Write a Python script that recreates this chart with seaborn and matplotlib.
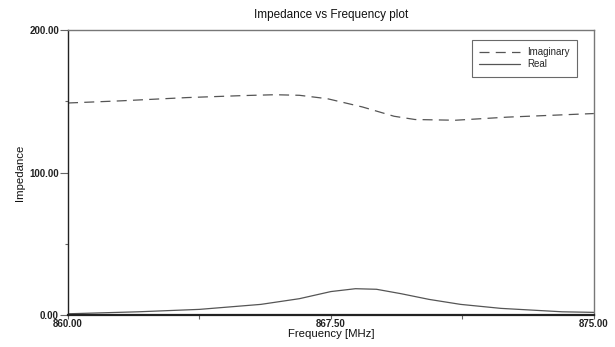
import pandas as pd
import seaborn as sns
import matplotlib.pyplot as plt
from matplotlib.ticker import FixedLocator

# values
freq_imag = [860.0, 861.5, 863.4, 865.0, 865.9, 866.6, 867.4, 868.4, 869.3, 869.9,
             871.05, 872.55, 874.9, 875.0]
imag = [148.8, 150.3, 152.6, 154.0, 154.6, 154.2, 151.8, 146.0, 139.5, 137.2,
        136.7, 138.9, 141.3, 141.4]

freq_real = [860.0, 862.0, 863.75, 865.5, 866.6, 867.5, 868.2, 868.8, 869.5, 870.3,
             871.2, 872.35, 874.1, 875.0]
real = [0.9, 2.3, 4.0, 7.5, 11.5, 16.5, 18.5, 18.1, 15.0, 11.0,
        7.5, 4.7, 2.3, 1.9]

x_ticks = [860.0, 867.5, 875.0]
y_ticks = [0.0, 100.0, 200.0]

sns.set_style("white")
plt.rcParams['font.family'] = ['Liberation Sans', 'DejaVu Sans']

fig = plt.figure(figsize=(6.15, 3.47), dpi=100)
ax = fig.add_axes([0.1106, 0.092, 0.855, 0.8215])

df_imag = pd.DataFrame({'Frequency': freq_imag, 'Impedance': imag})
df_real = pd.DataFrame({'Frequency': freq_real, 'Impedance': real})

sns.lineplot(data=df_imag, x='Frequency', y='Impedance', ax=ax, color='#555555',
             linewidth=0.9, linestyle=(0, (8, 5)), label='Imaginary')
sns.lineplot(data=df_real, x='Frequency', y='Impedance', ax=ax, color='#555555',
             linewidth=0.9, label='Real')

ax.set_xlim(860, 875)
ax.set_ylim(0, 200)
ax.set_xticks(x_ticks)
ax.set_yticks(y_ticks)
ax.set_xticklabels(['%.2f' % v for v in x_ticks], fontsize=7, fontweight='bold', color='#222222')
ax.set_yticklabels(['%.2f' % v for v in y_ticks], fontsize=7, fontweight='bold', color='#222222')
ax.xaxis.set_minor_locator(FixedLocator([863.75, 871.25]))
ax.yaxis.set_minor_locator(FixedLocator([50, 150]))
ax.tick_params(which='both', bottom=True, left=True, direction='out',
               width=0.8, color='#666666')
ax.tick_params(axis='x', which='major', length=3, pad=0)
ax.tick_params(axis='x', which='minor', length=3)
ax.tick_params(axis='y', which='major', length=6, pad=0.5)
ax.tick_params(axis='y', which='minor', length=2)

for side in ['left', 'bottom']:
    ax.spines[side].set_color('#222222')
    ax.spines[side].set_linewidth(1.0)
for side in ['top', 'right']:
    ax.spines[side].set_color('#777777')
    ax.spines[side].set_linewidth(1.0)
ax.spines['bottom'].set_linewidth(1.6)

ax.set_title('Impedance vs Frequency plot', fontsize=8.5, pad=9, color='#111111')
ax.set_xlabel('Frequency [MHz]', fontsize=8.2, labelpad=0, color='#111111')
ax.set_ylabel('Impedance', fontsize=8.2, labelpad=3, color='#111111')

leg = ax.legend(loc='upper right', bbox_to_anchor=(0.978, 0.983), fontsize=7,
                frameon=True, fancybox=False, handlelength=4.2, borderpad=0.75,
                labelspacing=0.25)
leg.get_frame().set_edgecolor('#444444')
leg.get_frame().set_linewidth(0.8)

fig.savefig('out.png', dpi=100)
